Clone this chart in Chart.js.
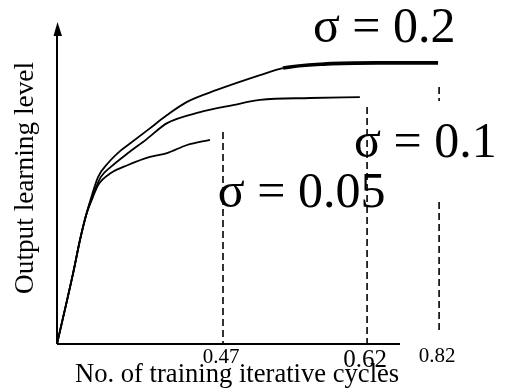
<!DOCTYPE html>
<html>
<head>
<meta charset="utf-8">
<script src="https://cdn.jsdelivr.net/npm/chart.js@4"></script>
<style>
  body { margin: 0; background: #fff; }
  canvas { display: block; }
</style>
</head>
<body>
<canvas id="learningChart" width="507" height="392"></canvas>
<script>
// Curves (x: training cycles, axis end = 1; y: output level, arrow tip = 1)
const sigma02X = [0, 0.047, 0.067, 0.085, 0.102, 0.120, 0.149, 0.187, 0.207, 0.265, 0.321, 0.379, 0.466, 0.592, 0.659, 0.787, 0.933, 1.111];
const sigma02Y = [0, 0.220, 0.323, 0.401, 0.463, 0.519, 0.562, 0.602, 0.618, 0.665, 0.711, 0.752, 0.789, 0.835, 0.857, 0.870, 0.873, 0.873];

const sigma01X = [0, 0.047, 0.067, 0.085, 0.105, 0.128, 0.157, 0.207, 0.259, 0.321, 0.417, 0.513, 0.592, 0.738, 0.883];
const sigma01Y = [0, 0.220, 0.323, 0.401, 0.463, 0.519, 0.550, 0.593, 0.634, 0.686, 0.720, 0.742, 0.758, 0.764, 0.767];

const sigma005X = [0, 0.047, 0.067, 0.085, 0.105, 0.120, 0.157, 0.207, 0.271, 0.321, 0.379, 0.446];
const sigma005Y = [0, 0.220, 0.323, 0.401, 0.457, 0.494, 0.531, 0.556, 0.581, 0.593, 0.618, 0.634];

// Dashed markers and their labels
const cycleLabels = ['0.47', '0.62', '0.82'];
const cycleX = [0.484, 0.904, 1.114];
const cycleTop = [0.658, 0.736, 0.798];
const cycleBottom = [0, 0, 0.043];
const gap082 = [0.755, 0.441]; // the 0.82 line is broken between these

// Annotations
const sigmaLabels = ['σ = 0.2', 'σ = 0.1', 'σ = 0.05'];
const sigmaLabelX = [0.746, 0.866, 0.469];
const sigmaLabelY = [0.938, 0.581, 0.425];

const xTitle = 'No. of training iterative cycles';
const yTitle = 'Output learning level';
const xAxisEnd = 1;
const yAxisEnd = 1;

const SERIF = '"Liberation Serif", "Times New Roman", serif';

function zip(xs, ys) {
    return xs.map((x, i) => ({ x: x, y: ys[i] }));
}

function markerData(i) {
    if (i === 2) {
        return [
            { x: cycleX[i], y: cycleTop[i] },
            { x: cycleX[i], y: gap082[0] },
            { x: cycleX[i], y: null },
            { x: cycleX[i], y: gap082[1] },
            { x: cycleX[i], y: cycleBottom[i] }
        ];
    }
    return [{ x: cycleX[i], y: cycleTop[i] }, { x: cycleX[i], y: cycleBottom[i] }];
}

const curveStyle = {
    borderColor: '#000',
    borderWidth: 1.8,
    pointRadius: 0,
    fill: false,
    cubicInterpolationMode: 'monotone'
};

const dashStyle = {
    borderColor: '#000',
    borderWidth: 1.6,
    borderDash: [7, 4],
    pointRadius: 0,
    fill: false,
    spanGaps: false
};

// axes, arrow and all the text
const decorations = {
    id: 'decorations',
    afterDatasetsDraw(chart) {
        const ctx = chart.ctx;
        const xs = chart.scales.x;
        const ys = chart.scales.y;
        const x0 = xs.getPixelForValue(0);
        const y0 = ys.getPixelForValue(0);
        const xEnd = xs.getPixelForValue(xAxisEnd);
        const yTop = ys.getPixelForValue(yAxisEnd);

        ctx.save();
        ctx.strokeStyle = '#000';
        ctx.fillStyle = '#000';
        ctx.lineWidth = 2;
        ctx.beginPath();
        ctx.moveTo(x0, y0);
        ctx.lineTo(xEnd, y0);
        ctx.moveTo(x0, y0);
        ctx.lineTo(x0, yTop + 12);
        ctx.stroke();

        ctx.beginPath();
        ctx.moveTo(x0 + 0.5, yTop);
        ctx.lineTo(x0 - 3.5, yTop + 14);
        ctx.lineTo(x0 + 5, yTop + 14);
        ctx.closePath();
        ctx.fill();

        // marker labels
        const tickFonts = [21, 25, 21];
        const tickDrop = [19, 23, 18];
        ctx.textAlign = 'center';
        ctx.textBaseline = 'alphabetic';
        cycleLabels.forEach((t, i) => {
            ctx.font = tickFonts[i] + 'px ' + SERIF;
            ctx.fillText(t, xs.getPixelForValue(cycleX[i]) - 2, y0 + tickDrop[i]);
        });

        // sigma annotations
        ctx.textAlign = 'left';
        ctx.font = '50px ' + SERIF;
        sigmaLabels.forEach((t, i) => {
            ctx.fillText(t, xs.getPixelForValue(sigmaLabelX[i]), ys.getPixelForValue(sigmaLabelY[i]));
        });

        // axis titles
        ctx.font = '26.6px ' + SERIF;
        ctx.textAlign = 'left';
        ctx.fillText(xTitle, x0 + 18, y0 + 38);

        ctx.font = '27.3px ' + SERIF;
        ctx.translate(33, (y0 + yTop) / 2 - 5);
        ctx.rotate(-Math.PI / 2);
        ctx.textAlign = 'center';
        ctx.fillText(yTitle, 0, 0);
        ctx.restore();
    }
};

new Chart(document.getElementById('learningChart').getContext('2d'), {
    type: 'line',
    data: {
        datasets: [
            Object.assign({
                label: 'σ = 0.2',
                data: zip(sigma02X, sigma02Y),
                segment: {
                    borderWidth: c => c.p0.parsed.x >= 0.65 ? 3.6 : 1.8
                }
            }, curveStyle),
            Object.assign({ label: 'σ = 0.1', data: zip(sigma01X, sigma01Y) }, curveStyle),
            Object.assign({ label: 'σ = 0.05', data: zip(sigma005X, sigma005Y) }, curveStyle),
            Object.assign({ label: cycleLabels[0], data: markerData(0) }, dashStyle),
            Object.assign({ label: cycleLabels[1], data: markerData(1) }, dashStyle),
            Object.assign({ label: cycleLabels[2], data: markerData(2) }, dashStyle)
        ]
    },
    options: {
        responsive: false,
        animation: false,
        layout: { padding: { left: 57, top: 22, right: 38.4, bottom: 48 } },
        scales: {
            x: { type: 'linear', min: 0, max: 1.2, display: false },
            y: { type: 'linear', min: 0, max: 1, display: false }
        },
        plugins: {
            legend: { display: false },
            tooltip: { enabled: false }
        }
    },
    plugins: [decorations]
});
</script>
</body>
</html>
